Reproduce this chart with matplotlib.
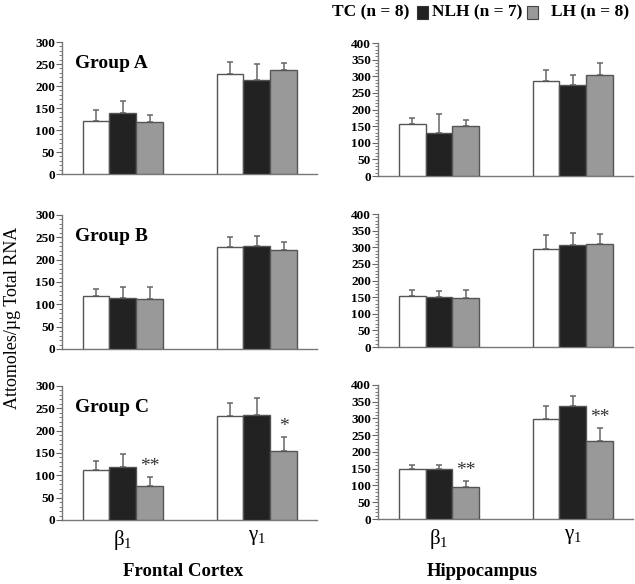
import numpy as np
import matplotlib.pyplot as plt
from matplotlib.patches import Rectangle

plt.rcParams['font.family'] = ['Liberation Serif', 'DejaVu Serif']
plt.rcParams['mathtext.fontset'] = 'custom'
plt.rcParams['mathtext.rm'] = 'Liberation Serif'

groups = ['Group A', 'Group B', 'Group C']
genes = [r'$\mathregular{β_1}$', r'$\mathregular{γ_1}$']
series = ['TC (n = 8)', 'NLH (n = 7)', 'LH (n = 8)']
colors = ['white', '#222222', '#999999']

# frontal cortex: [group][series][gene]
fc_mean = [
    [[121, 228], [139, 213], [119, 236]],
    [[119, 229], [115, 231], [113, 222]],
    [[113, 232], [119, 234], [77, 155]],
]
fc_err = [
    [[24, 27], [26, 36], [16, 16]],
    [[15, 21], [23, 21], [26, 17]],
    [[20, 29], [28, 39], [20, 30]],
]
# hippocampus
hc_mean = [
    [[156, 285], [129, 273], [150, 303]],
    [[154, 296], [149, 308], [146, 311]],
    [[148, 298], [149, 338], [95, 234]],
]
hc_err = [
    [[19, 34], [57, 31], [20, 36]],
    [[19, 40], [18, 36], [25, 28]],
    [[13, 40], [13, 30], [18, 39]],
]
# significance marks on LH bars (group C only)
fc_sig = [['', ''], ['', ''], ['**', '*']]
hc_sig = [['', ''], ['', ''], ['**', '**']]

fig = plt.figure(figsize=(6.35, 5.84), dpi=100)

lefts = [0.0976, 0.5953]
bottoms = [[0.702, 0.4024, 0.1096], [0.6986, 0.4058, 0.1113]]
heights = [[0.226, 0.2295, 0.2295], [0.2277, 0.2277, 0.2295]]
width = 0.2
x = np.arange(len(genes))

for col, (means, errs, sigs, ymax) in enumerate([(fc_mean, fc_err, fc_sig, 300),
                                                 (hc_mean, hc_err, hc_sig, 400)]):
    for row in range(3):
        ax = fig.add_axes([lefts[col], bottoms[col][row], 0.4016, heights[col][row]])
        for s in range(3):
            pos = x + (s - 1) * width
            ax.bar(pos, means[row][s], width, color=colors[s], edgecolor='#555555',
                   linewidth=1.0, zorder=3)
            ax.errorbar(pos, means[row][s], yerr=[np.zeros(2), errs[row][s]], fmt='none',
                        ecolor='#666666', elinewidth=1.1, capsize=2.5, capthick=1.1, zorder=2)
        for g in range(2):
            if sigs[row][g]:
                ax.text(x[g] + width, means[row][2][g] + errs[row][2][g] + ymax * 0.015,
                        sigs[row][g], ha='center', va='bottom', fontsize=14, color='#333333')
        ax.set_xlim(-0.455, 1.45)
        ax.set_ylim(0, ymax)
        yt = np.arange(0, ymax + 1, 50)
        ax.set_yticks(yt)
        ax.set_yticklabels([str(v) for v in yt], fontweight='bold', fontsize=9.5)
        ax.set_yticks(np.arange(0, ymax + 1, 10), minor=True)
        ax.tick_params(axis='y', length=4, width=0.8, color='#666666', pad=1)
        ax.tick_params(axis='y', which='minor', length=2, width=0.6, color='#666666')
        for sp in ['top', 'right']:
            ax.spines[sp].set_visible(False)
        for sp in ['left', 'bottom']:
            ax.spines[sp].set_color('#777777')
            ax.spines[sp].set_linewidth(1.0)
        if row == 2:
            ax.set_xticks(x)
            ax.set_xticklabels(genes, fontsize=15)
            ax.tick_params(axis='x', length=0, pad=6)
        else:
            ax.set_xticks([])
        if col == 0:
            ax.text(0.05, 0.9, groups[row], transform=ax.transAxes, fontsize=14,
                    fontweight='bold', va='top', ha='left')

fig.text(0.02, 0.455, 'Attomoles/µg Total RNA', rotation=90, fontsize=13,
         ha='center', va='center')
fig.text(183 / 635, 1 - 572 / 584, 'Frontal Cortex', fontsize=13.5, fontweight='bold',
         ha='center', va='center')
fig.text(482 / 635, 1 - 572 / 584, 'Hippocampus', fontsize=13.5, fontweight='bold',
         ha='center', va='center')

# legend along the top
ly = 1 - 12 / 584
fig.text(332 / 635, ly, series[0], fontsize=12.5, fontweight='bold', ha='left', va='center')
fig.patches.append(Rectangle((417 / 635, 1 - 19 / 584), 11 / 635, 13 / 584,
                             transform=fig.transFigure, facecolor=colors[1],
                             edgecolor='#333333', linewidth=0.8))
fig.text(432 / 635, ly, series[1], fontsize=12.5, fontweight='bold', ha='left', va='center')
fig.patches.append(Rectangle((527 / 635, 1 - 19 / 584), 11 / 635, 13 / 584,
                             transform=fig.transFigure, facecolor=colors[2],
                             edgecolor='#444444', linewidth=0.8))
fig.text(551 / 635, ly, series[2], fontsize=12.5, fontweight='bold', ha='left', va='center')

fig.savefig('out.png', dpi=100)
